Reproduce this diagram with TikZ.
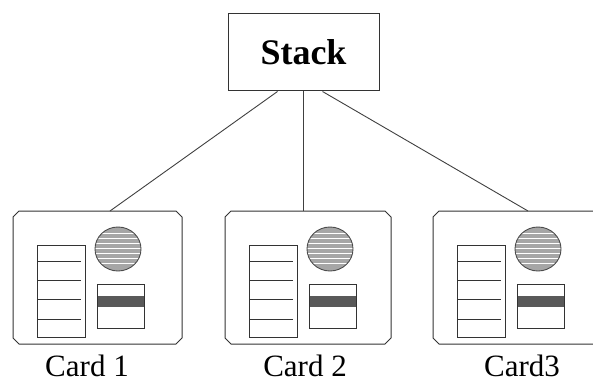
\documentclass[tikz,border=0pt]{standalone}
\usepackage{fontspec}
\setmainfont{Liberation Serif}
\usetikzlibrary{calc}

% One card: #1 name, #2 left edge, #3 width, #4 label x, #5 label text
\newcommand\cardpic[5]{%
  \begin{scope}[shift={(#2,0)}]
    % outline with cut corners
    \draw[ink] (0,217) -- (0,338) -- (6,344) -- (#3-6,344) -- (#3,338)
      -- (#3,217) -- (#3-6,211) -- (6,211) -- cycle;
    \coordinate (#1top) at (0,211);
    % form panel with rows
    \draw[ink] (24,245) rectangle (72,337);
    \foreach \yy in {261,280,299,319}
      \draw[ink] (24,\yy) -- (68,\yy);
    % striped photo disc
    \begin{scope}
      \clip (105,249) ellipse [x radius=23, y radius=22];
      \fill[gray!70] (80,225) rectangle (130,273);
      \foreach \yy in {-16,-11,-6,-1,4,9,14}
        \draw[white, line width=0.9pt] (80,249+\yy) -- (130,249+\yy);
    \end{scope}
    \draw[black!70, line width=0.9pt] (105,249) ellipse [x radius=23, y radius=22];
    % chip box with dark band
    \fill[black!65] (84,296) rectangle (131,307);
    \draw[ink] (84,284) rectangle (131,328);
  \end{scope}
  \node[lbl] (#1) at (#4,366) {#5};
}

\begin{document}
\begin{tikzpicture}[x=1pt, y=-1pt,
  ink/.style={draw=black!80, line width=1pt},
  wire/.style={draw=black!75, line width=0.9pt},
  lbl/.style={font=\fontsize{31}{31}\selectfont, inner sep=0pt},
  stackbox/.style={draw=black!80, line width=1pt, minimum width=151pt,
    minimum height=77pt, inner sep=0pt,
    font=\fontsize{36}{36}\selectfont\bfseries}]
  \useasboundingbox (0,0) rectangle (593,382);
  \begin{scope}
    \clip (0,0) rectangle (593,382);

    \node[stackbox] (stack) at (303.5,52.5) {Stack};

    \cardpic{card1}{13}{169}{87}{Card 1}
    \cardpic{card2}{225}{166}{305}{Card 2}
    \cardpic{card3}{433}{175}{522}{Card3}

    % links from the stack down to each card
    \coordinate (s1) at ($(stack.south)+(-26,0)$);
    \coordinate (s3) at ($(stack.south)+(19,0)$);
    \coordinate (t1) at ($(card1top)+(97,0)$);
    \coordinate (t3) at ($(card3top)+(95,0)$);
    \draw[wire] (s1) -- (t1);
    \draw[wire] (stack.south) -- (stack.south |- card2top);
    \draw[wire] (s3) -- (t3);
  \end{scope}
\end{tikzpicture}
\end{document}
